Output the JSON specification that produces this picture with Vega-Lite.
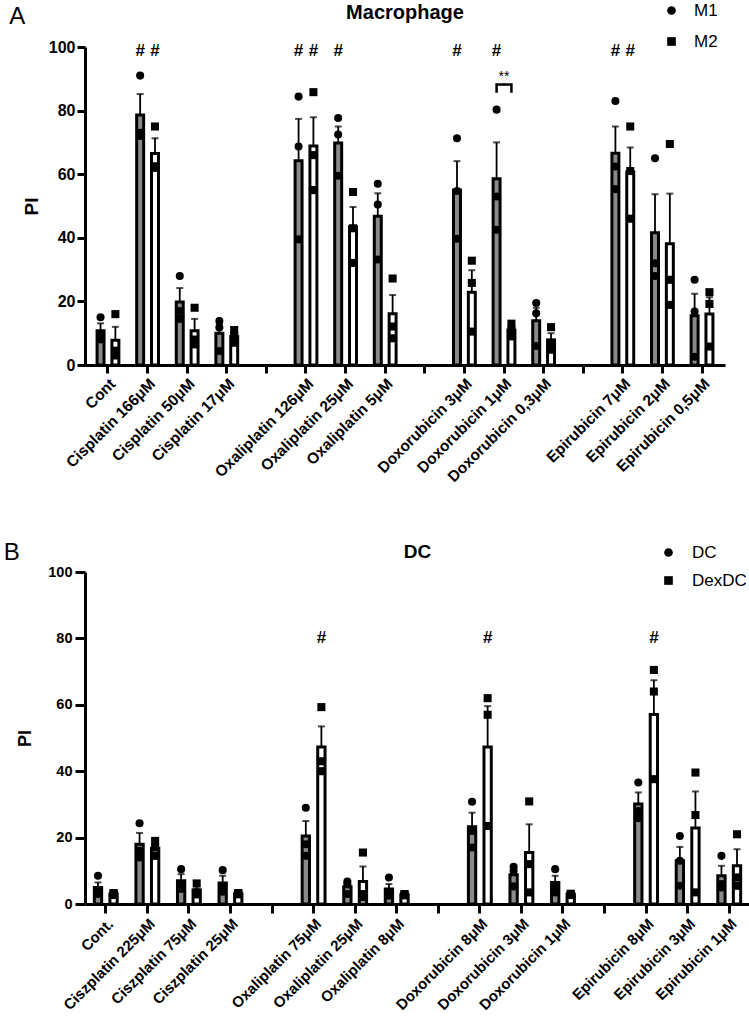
{
  "$schema": "https://vega.github.io/schema/vega-lite/v6.json",
  "padding": {"left": 3, "top": 2, "right": 3, "bottom": 2},
  "spacing": 55,
  "config": {
    "font": "Liberation Sans",
    "view": {"stroke": null},
    "axis": {"grid": false, "domainColor": "black", "tickColor": "black", "labelColor": "black", "titleColor": "black", "domainWidth": 3, "tickWidth": 3, "labelFontWeight": "bold", "titleFontWeight": "bold"},
    "legend": {"labelColor": "black"},
    "title": {"color": "black"}
  },
  "datasets": {
    "macBars": [
      {"cat": "Cont", "group": "M1", "mean": 10.8, "upper": 13.1},
      {"cat": "Cont", "group": "M2", "mean": 7.8, "upper": 12.0},
      {"cat": "Cisplatin 166μM", "group": "M1", "mean": 78.6, "upper": 85.2},
      {"cat": "Cisplatin 166μM", "group": "M2", "mean": 66.5, "upper": 71.3},
      {"cat": "Cisplatin 50μM", "group": "M1", "mean": 19.8, "upper": 24.2},
      {"cat": "Cisplatin 50μM", "group": "M2", "mean": 10.8, "upper": 14.5},
      {"cat": "Cisplatin 17μM", "group": "M1", "mean": 10.0, "upper": 12.9},
      {"cat": "Cisplatin 17μM", "group": "M2", "mean": 9.0, "upper": 10.2},
      {"cat": "Oxaliplatin 126μM", "group": "M1", "mean": 64.2, "upper": 77.4},
      {"cat": "Oxaliplatin 126μM", "group": "M2", "mean": 68.9, "upper": 77.9},
      {"cat": "Oxaliplatin 25μM", "group": "M1", "mean": 69.8, "upper": 75.0},
      {"cat": "Oxaliplatin 25μM", "group": "M2", "mean": 43.5, "upper": 49.7},
      {"cat": "Oxaliplatin 5μM", "group": "M1", "mean": 46.8, "upper": 54.0},
      {"cat": "Oxaliplatin 5μM", "group": "M2", "mean": 16.1, "upper": 22.0},
      {"cat": "Doxorubicin 3μM", "group": "M1", "mean": 55.0, "upper": 64.1},
      {"cat": "Doxorubicin 3μM", "group": "M2", "mean": 22.9, "upper": 29.8},
      {"cat": "Doxorubicin 1μM", "group": "M1", "mean": 58.6, "upper": 70.0},
      {"cat": "Doxorubicin 1μM", "group": "M2", "mean": 11.0, "upper": 12.2},
      {"cat": "Doxorubicin 0,3μM", "group": "M1", "mean": 13.9, "upper": 18.0},
      {"cat": "Doxorubicin 0,3μM", "group": "M2", "mean": 7.9, "upper": 10.0},
      {"cat": "Epirubicin 7μM", "group": "M1", "mean": 66.6, "upper": 75.0},
      {"cat": "Epirubicin 7μM", "group": "M2", "mean": 60.7, "upper": 68.4},
      {"cat": "Epirubicin 2μM", "group": "M1", "mean": 41.6, "upper": 53.7},
      {"cat": "Epirubicin 2μM", "group": "M2", "mean": 38.1, "upper": 53.9},
      {"cat": "Epirubicin 0,5μM", "group": "M1", "mean": 15.5, "upper": 22.4},
      {"cat": "Epirubicin 0,5μM", "group": "M2", "mean": 16.0, "upper": 21.3}
    ],
    "macPoints": [
      {"cat": "Cont", "group": "M1", "value": 15}, {"cat": "Cont", "group": "M1", "value": 9.5}, {"cat": "Cont", "group": "M1", "value": 8},
      {"cat": "Cont", "group": "M2", "value": 16}, {"cat": "Cont", "group": "M2", "value": 4.5}, {"cat": "Cont", "group": "M2", "value": 3},
      {"cat": "Cisplatin 166μM", "group": "M1", "value": 91}, {"cat": "Cisplatin 166μM", "group": "M1", "value": 72}, {"cat": "Cisplatin 166μM", "group": "M1", "value": 73},
      {"cat": "Cisplatin 166μM", "group": "M2", "value": 75}, {"cat": "Cisplatin 166μM", "group": "M2", "value": 62}, {"cat": "Cisplatin 166μM", "group": "M2", "value": 62.5},
      {"cat": "Cisplatin 50μM", "group": "M1", "value": 28}, {"cat": "Cisplatin 50μM", "group": "M1", "value": 17}, {"cat": "Cisplatin 50μM", "group": "M1", "value": 14.5},
      {"cat": "Cisplatin 50μM", "group": "M2", "value": 18}, {"cat": "Cisplatin 50μM", "group": "M2", "value": 8}, {"cat": "Cisplatin 50μM", "group": "M2", "value": 6.5},
      {"cat": "Cisplatin 17μM", "group": "M1", "value": 13.8}, {"cat": "Cisplatin 17μM", "group": "M1", "value": 11.8}, {"cat": "Cisplatin 17μM", "group": "M1", "value": 4.4},
      {"cat": "Cisplatin 17μM", "group": "M2", "value": 11}, {"cat": "Cisplatin 17μM", "group": "M2", "value": 9}, {"cat": "Cisplatin 17μM", "group": "M2", "value": 7},
      {"cat": "Oxaliplatin 126μM", "group": "M1", "value": 84.4}, {"cat": "Oxaliplatin 126μM", "group": "M1", "value": 68.7}, {"cat": "Oxaliplatin 126μM", "group": "M1", "value": 39.5},
      {"cat": "Oxaliplatin 126μM", "group": "M2", "value": 85.8}, {"cat": "Oxaliplatin 126μM", "group": "M2", "value": 66}, {"cat": "Oxaliplatin 126μM", "group": "M2", "value": 55},
      {"cat": "Oxaliplatin 25μM", "group": "M1", "value": 77.7}, {"cat": "Oxaliplatin 25μM", "group": "M1", "value": 72.5}, {"cat": "Oxaliplatin 25μM", "group": "M1", "value": 59.5},
      {"cat": "Oxaliplatin 25μM", "group": "M2", "value": 54.4}, {"cat": "Oxaliplatin 25μM", "group": "M2", "value": 43}, {"cat": "Oxaliplatin 25μM", "group": "M2", "value": 32.1},
      {"cat": "Oxaliplatin 5μM", "group": "M1", "value": 57}, {"cat": "Oxaliplatin 5μM", "group": "M1", "value": 50.5}, {"cat": "Oxaliplatin 5μM", "group": "M1", "value": 33.2},
      {"cat": "Oxaliplatin 5μM", "group": "M2", "value": 27.2}, {"cat": "Oxaliplatin 5μM", "group": "M2", "value": 12.1}, {"cat": "Oxaliplatin 5μM", "group": "M2", "value": 8.4},
      {"cat": "Doxorubicin 3μM", "group": "M1", "value": 71.3}, {"cat": "Doxorubicin 3μM", "group": "M1", "value": 54.7}, {"cat": "Doxorubicin 3μM", "group": "M1", "value": 39.7},
      {"cat": "Doxorubicin 3μM", "group": "M2", "value": 32.8}, {"cat": "Doxorubicin 3μM", "group": "M2", "value": 25.8}, {"cat": "Doxorubicin 3μM", "group": "M2", "value": 10.5},
      {"cat": "Doxorubicin 1μM", "group": "M1", "value": 80.3}, {"cat": "Doxorubicin 1μM", "group": "M1", "value": 53}, {"cat": "Doxorubicin 1μM", "group": "M1", "value": 42.5},
      {"cat": "Doxorubicin 1μM", "group": "M2", "value": 13}, {"cat": "Doxorubicin 1μM", "group": "M2", "value": 11}, {"cat": "Doxorubicin 1μM", "group": "M2", "value": 9},
      {"cat": "Doxorubicin 0,3μM", "group": "M1", "value": 19.5}, {"cat": "Doxorubicin 0,3μM", "group": "M1", "value": 16.3}, {"cat": "Doxorubicin 0,3μM", "group": "M1", "value": 6},
      {"cat": "Doxorubicin 0,3μM", "group": "M2", "value": 11.9}, {"cat": "Doxorubicin 0,3μM", "group": "M2", "value": 7}, {"cat": "Doxorubicin 0,3μM", "group": "M2", "value": 4.8},
      {"cat": "Epirubicin 7μM", "group": "M1", "value": 83}, {"cat": "Epirubicin 7μM", "group": "M1", "value": 62.4}, {"cat": "Epirubicin 7μM", "group": "M1", "value": 55.3},
      {"cat": "Epirubicin 7μM", "group": "M2", "value": 75}, {"cat": "Epirubicin 7μM", "group": "M2", "value": 61}, {"cat": "Epirubicin 7μM", "group": "M2", "value": 46},
      {"cat": "Epirubicin 2μM", "group": "M1", "value": 65}, {"cat": "Epirubicin 2μM", "group": "M1", "value": 32}, {"cat": "Epirubicin 2μM", "group": "M1", "value": 28},
      {"cat": "Epirubicin 2μM", "group": "M2", "value": 69.5}, {"cat": "Epirubicin 2μM", "group": "M2", "value": 26.8}, {"cat": "Epirubicin 2μM", "group": "M2", "value": 18.9},
      {"cat": "Epirubicin 0,5μM", "group": "M1", "value": 26.8}, {"cat": "Epirubicin 0,5μM", "group": "M1", "value": 16.8}, {"cat": "Epirubicin 0,5μM", "group": "M1", "value": 2.6},
      {"cat": "Epirubicin 0,5μM", "group": "M2", "value": 22.9}, {"cat": "Epirubicin 0,5μM", "group": "M2", "value": 19.2}, {"cat": "Epirubicin 0,5μM", "group": "M2", "value": 5.8}
    ],
    "macMarks": [
      {"cat": "Cisplatin 166μM", "group": "M1", "v": 98.6, "label": "#"},
      {"cat": "Cisplatin 166μM", "group": "M2", "v": 98.6, "label": "#"},
      {"cat": "Oxaliplatin 126μM", "group": "M1", "v": 98.6, "label": "#"},
      {"cat": "Oxaliplatin 126μM", "group": "M2", "v": 98.6, "label": "#"},
      {"cat": "Oxaliplatin 25μM", "group": "M1", "v": 98.6, "label": "#"},
      {"cat": "Doxorubicin 3μM", "group": "M1", "v": 98.6, "label": "#"},
      {"cat": "Doxorubicin 1μM", "group": "M1", "v": 98.6, "label": "#"},
      {"cat": "Epirubicin 7μM", "group": "M1", "v": 98.6, "label": "#"},
      {"cat": "Epirubicin 7μM", "group": "M2", "v": 98.6, "label": "#"}
    ],
    "macBracket": [
      {"cat": "Doxorubicin 1μM", "group": "M1", "v": 85.6, "ord": 1},
      {"cat": "Doxorubicin 1μM", "group": "M1", "v": 88.2, "ord": 2},
      {"cat": "Doxorubicin 1μM", "group": "M2", "v": 88.2, "ord": 3},
      {"cat": "Doxorubicin 1μM", "group": "M2", "v": 85.6, "ord": 4}
    ],
    "macStars": [
      {"cat": "Doxorubicin 1μM", "v": 90.6, "label": "**"}
    ],
    "dcBars": [
      {"cat": "Cont.", "group": "DC", "mean": 5.0, "upper": 6.5},
      {"cat": "Cont.", "group": "DexDC", "mean": 3.0, "upper": 3.5},
      {"cat": "Ciszplatin 225μM", "group": "DC", "mean": 18.0, "upper": 21.4},
      {"cat": "Ciszplatin 225μM", "group": "DexDC", "mean": 16.8, "upper": 18.3},
      {"cat": "Ciszplatin 75μM", "group": "DC", "mean": 7.0, "upper": 9.0},
      {"cat": "Ciszplatin 75μM", "group": "DexDC", "mean": 4.2, "upper": 5.3},
      {"cat": "Ciszplatin 25μM", "group": "DC", "mean": 6.3, "upper": 8.5},
      {"cat": "Ciszplatin 25μM", "group": "DexDC", "mean": 3.1, "upper": 3.3},
      {"cat": "Oxaliplatin 75μM", "group": "DC", "mean": 20.5, "upper": 25.0},
      {"cat": "Oxaliplatin 75μM", "group": "DexDC", "mean": 47.3, "upper": 53.5},
      {"cat": "Oxaliplatin 25μM", "group": "DC", "mean": 5.2, "upper": 6.4},
      {"cat": "Oxaliplatin 25μM", "group": "DexDC", "mean": 6.8, "upper": 11.3},
      {"cat": "Oxaliplatin 8μM", "group": "DC", "mean": 4.5, "upper": 6.0},
      {"cat": "Oxaliplatin 8μM", "group": "DexDC", "mean": 2.8, "upper": 3.0},
      {"cat": "Doxorubicin 8μM", "group": "DC", "mean": 23.3, "upper": 27.5},
      {"cat": "Doxorubicin 8μM", "group": "DexDC", "mean": 47.3, "upper": 59.6},
      {"cat": "Doxorubicin 3μM", "group": "DC", "mean": 8.8, "upper": 10.7},
      {"cat": "Doxorubicin 3μM", "group": "DexDC", "mean": 15.5, "upper": 24.0},
      {"cat": "Doxorubicin 1μM", "group": "DC", "mean": 6.5, "upper": 8.5},
      {"cat": "Doxorubicin 1μM", "group": "DexDC", "mean": 2.9, "upper": 3.1},
      {"cat": "Epirubicin 8μM", "group": "DC", "mean": 30.1, "upper": 33.6},
      {"cat": "Epirubicin 8μM", "group": "DexDC", "mean": 57.1, "upper": 67.4},
      {"cat": "Epirubicin 3μM", "group": "DC", "mean": 13.0, "upper": 17.2},
      {"cat": "Epirubicin 3μM", "group": "DexDC", "mean": 22.9, "upper": 33.9},
      {"cat": "Epirubicin 1μM", "group": "DC", "mean": 8.5, "upper": 11.5},
      {"cat": "Epirubicin 1μM", "group": "DexDC", "mean": 11.5, "upper": 16.5}
    ],
    "dcPoints": [
      {"cat": "Cont.", "group": "DC", "value": 8.5}, {"cat": "Cont.", "group": "DC", "value": 3.5}, {"cat": "Cont.", "group": "DC", "value": 3},
      {"cat": "Cont.", "group": "DexDC", "value": 3.3}, {"cat": "Cont.", "group": "DexDC", "value": 3}, {"cat": "Cont.", "group": "DexDC", "value": 2.7},
      {"cat": "Ciszplatin 225μM", "group": "DC", "value": 24.3}, {"cat": "Ciszplatin 225μM", "group": "DC", "value": 16}, {"cat": "Ciszplatin 225μM", "group": "DC", "value": 14},
      {"cat": "Ciszplatin 225μM", "group": "DexDC", "value": 19}, {"cat": "Ciszplatin 225μM", "group": "DexDC", "value": 17}, {"cat": "Ciszplatin 225μM", "group": "DexDC", "value": 14.5},
      {"cat": "Ciszplatin 75μM", "group": "DC", "value": 10.5}, {"cat": "Ciszplatin 75μM", "group": "DC", "value": 6}, {"cat": "Ciszplatin 75μM", "group": "DC", "value": 4.5},
      {"cat": "Ciszplatin 75μM", "group": "DexDC", "value": 6.2}, {"cat": "Ciszplatin 75μM", "group": "DexDC", "value": 3.5}, {"cat": "Ciszplatin 75μM", "group": "DexDC", "value": 2.9},
      {"cat": "Ciszplatin 25μM", "group": "DC", "value": 10.2}, {"cat": "Ciszplatin 25μM", "group": "DC", "value": 5}, {"cat": "Ciszplatin 25μM", "group": "DC", "value": 3.7},
      {"cat": "Ciszplatin 25μM", "group": "DexDC", "value": 3.3}, {"cat": "Ciszplatin 25μM", "group": "DexDC", "value": 3.1}, {"cat": "Ciszplatin 25μM", "group": "DexDC", "value": 2.9},
      {"cat": "Oxaliplatin 75μM", "group": "DC", "value": 29}, {"cat": "Oxaliplatin 75μM", "group": "DC", "value": 18}, {"cat": "Oxaliplatin 75μM", "group": "DC", "value": 14.5},
      {"cat": "Oxaliplatin 75μM", "group": "DexDC", "value": 59.3}, {"cat": "Oxaliplatin 75μM", "group": "DexDC", "value": 43}, {"cat": "Oxaliplatin 75μM", "group": "DexDC", "value": 40},
      {"cat": "Oxaliplatin 25μM", "group": "DC", "value": 6.8}, {"cat": "Oxaliplatin 25μM", "group": "DC", "value": 6}, {"cat": "Oxaliplatin 25μM", "group": "DC", "value": 3},
      {"cat": "Oxaliplatin 25μM", "group": "DexDC", "value": 15.5}, {"cat": "Oxaliplatin 25μM", "group": "DexDC", "value": 3}, {"cat": "Oxaliplatin 25μM", "group": "DexDC", "value": 2},
      {"cat": "Oxaliplatin 8μM", "group": "DC", "value": 8}, {"cat": "Oxaliplatin 8μM", "group": "DC", "value": 3}, {"cat": "Oxaliplatin 8μM", "group": "DC", "value": 2.5},
      {"cat": "Oxaliplatin 8μM", "group": "DexDC", "value": 3}, {"cat": "Oxaliplatin 8μM", "group": "DexDC", "value": 2.8}, {"cat": "Oxaliplatin 8μM", "group": "DexDC", "value": 2.6},
      {"cat": "Doxorubicin 8μM", "group": "DC", "value": 30.8}, {"cat": "Doxorubicin 8μM", "group": "DC", "value": 22}, {"cat": "Doxorubicin 8μM", "group": "DC", "value": 17},
      {"cat": "Doxorubicin 8μM", "group": "DexDC", "value": 62}, {"cat": "Doxorubicin 8μM", "group": "DexDC", "value": 57}, {"cat": "Doxorubicin 8μM", "group": "DexDC", "value": 23.5},
      {"cat": "Doxorubicin 3μM", "group": "DC", "value": 11.2}, {"cat": "Doxorubicin 3μM", "group": "DC", "value": 10}, {"cat": "Doxorubicin 3μM", "group": "DC", "value": 5.3},
      {"cat": "Doxorubicin 3μM", "group": "DexDC", "value": 30.9}, {"cat": "Doxorubicin 3μM", "group": "DexDC", "value": 12}, {"cat": "Doxorubicin 3μM", "group": "DexDC", "value": 3.5},
      {"cat": "Doxorubicin 1μM", "group": "DC", "value": 10.5}, {"cat": "Doxorubicin 1μM", "group": "DC", "value": 5.5}, {"cat": "Doxorubicin 1μM", "group": "DC", "value": 3.5},
      {"cat": "Doxorubicin 1μM", "group": "DexDC", "value": 3.1}, {"cat": "Doxorubicin 1μM", "group": "DexDC", "value": 2.9}, {"cat": "Doxorubicin 1μM", "group": "DexDC", "value": 2.7},
      {"cat": "Epirubicin 8μM", "group": "DC", "value": 36.6}, {"cat": "Epirubicin 8μM", "group": "DC", "value": 28}, {"cat": "Epirubicin 8μM", "group": "DC", "value": 25.8},
      {"cat": "Epirubicin 8μM", "group": "DexDC", "value": 70.5}, {"cat": "Epirubicin 8μM", "group": "DexDC", "value": 64}, {"cat": "Epirubicin 8μM", "group": "DexDC", "value": 37.6},
      {"cat": "Epirubicin 3μM", "group": "DC", "value": 20.5}, {"cat": "Epirubicin 3μM", "group": "DC", "value": 13}, {"cat": "Epirubicin 3μM", "group": "DC", "value": 5.5},
      {"cat": "Epirubicin 3μM", "group": "DexDC", "value": 39.6}, {"cat": "Epirubicin 3μM", "group": "DexDC", "value": 26.8}, {"cat": "Epirubicin 3μM", "group": "DexDC", "value": 3.5},
      {"cat": "Epirubicin 1μM", "group": "DC", "value": 14.5}, {"cat": "Epirubicin 1μM", "group": "DC", "value": 6}, {"cat": "Epirubicin 1μM", "group": "DC", "value": 5},
      {"cat": "Epirubicin 1μM", "group": "DexDC", "value": 21}, {"cat": "Epirubicin 1μM", "group": "DexDC", "value": 8}, {"cat": "Epirubicin 1μM", "group": "DexDC", "value": 5.5}
    ],
    "dcMarks": [
      {"cat": "Oxaliplatin 75μM", "group": "DexDC", "v": 80, "label": "#"},
      {"cat": "Doxorubicin 8μM", "group": "DexDC", "v": 80, "label": "#"},
      {"cat": "Epirubicin 8μM", "group": "DexDC", "v": 80, "label": "#"}
    ]
  },
  "resolve": {"scale": {"x": "independent", "y": "independent", "xOffset": "independent", "shape": "independent"}, "legend": {"shape": "independent"}},
  "vconcat": [
    {
      "title": {"text": "A", "anchor": "start", "frame": "bounds", "fontSize": 24, "fontWeight": "normal", "dy": 31, "dx": -13},
      "resolve": {"scale": {"shape": "independent", "xOffset": "independent"}, "legend": {"shape": "independent"}},
      "vconcat": [
        {
          "width": 640,
          "height": 318,
          "title": {"text": "Macrophage", "fontSize": 20, "fontWeight": "bold", "anchor": "middle", "offset": -21},
          "encoding": {
            "x": {"field": "cat", "type": "nominal", "title": null,
              "scale": {"domain": ["Cont", "Cisplatin 166μM", "Cisplatin 50μM", "Cisplatin 17μM", "gap1", "Oxaliplatin 126μM", "Oxaliplatin 25μM", "Oxaliplatin 5μM", "gap2", "Doxorubicin 3μM", "Doxorubicin 1μM", "Doxorubicin 0,3μM", "gap3", "Epirubicin 7μM", "Epirubicin 2μM", "Epirubicin 0,5μM"], "paddingInner": 0, "paddingOuter": 0.08},
              "axis": {"labelAngle": -45, "labelFontSize": 15.5, "labelPadding": 3, "tickSize": 8, "labelLimit": 300, "labelExpr": "slice(datum.value, 0, 3) === 'gap' ? '' : datum.label"}},
            "xOffset": {"field": "group", "type": "nominal", "scale": {"domain": ["M1", "M2"], "paddingInner": 0.53, "paddingOuter": 0.6}}
          },
          "layer": [
            {
              "data": {"name": "macBars"},
              "mark": {"type": "bar", "stroke": "black", "strokeWidth": 3},
              "encoding": {
                "y": {"field": "mean", "type": "quantitative", "title": "PI",
                  "scale": {"domain": [0, 100]},
                  "axis": {"values": [0, 20, 40, 60, 80, 100], "labelFontSize": 16, "tickSize": 8, "labelPadding": 2, "titleFontSize": 19, "titlePadding": 7}},
                "fill": {"condition": {"test": "datum.group === 'M1'", "value": "#8a8a8a"}, "value": "#ffffff"}
              }
            },
            {
              "data": {"name": "macBars"},
              "mark": {"type": "rule", "color": "black", "strokeWidth": 1.8},
              "encoding": {"y": {"field": "mean", "type": "quantitative"}, "y2": {"field": "upper"}}
            },
            {
              "data": {"name": "macBars"},
              "mark": {"type": "tick", "color": "black", "orient": "horizontal", "size": 7, "thickness": 2},
              "encoding": {"y": {"field": "upper", "type": "quantitative"}}
            },
            {
              "data": {"name": "macPoints"},
              "mark": {"type": "point", "filled": true, "color": "black", "opacity": 1, "size": 65},
              "encoding": {
                "y": {"field": "value", "type": "quantitative"},
                "shape": {"field": "group", "type": "nominal", "scale": {"domain": ["M1", "M2"], "range": ["circle", "square"]},
                  "legend": {"title": null, "orient": "none", "legendX": 578, "legendY": -45, "labelFontSize": 17, "labelFontWeight": "normal", "symbolSize": 75, "symbolFillColor": "black", "symbolStrokeColor": "black", "rowPadding": 13, "labelOffset": 14}}
              }
            },
            {
              "data": {"name": "macMarks"},
              "mark": {"type": "text", "fontSize": 17, "fontWeight": "bold", "baseline": "middle", "color": "black"},
              "encoding": {"y": {"field": "v", "type": "quantitative"}, "text": {"field": "label"}}
            },
            {
              "data": {"name": "macBracket"},
              "mark": {"type": "line", "color": "black", "strokeWidth": 2.5},
              "encoding": {"y": {"field": "v", "type": "quantitative"}, "order": {"field": "ord"}}
            },
            {
              "data": {"name": "macStars"},
              "mark": {"type": "text", "fontSize": 14, "baseline": "middle", "color": "black"},
              "encoding": {"y": {"field": "v", "type": "quantitative"}, "xOffset": null, "text": {"field": "label"}}
            }
          ]
        }
      ]
    },
    {
      "title": {"text": "B", "anchor": "start", "frame": "bounds", "fontSize": 24, "fontWeight": "normal", "dy": 26, "dx": -13},
      "resolve": {"scale": {"shape": "independent", "xOffset": "independent"}, "legend": {"shape": "independent"}},
      "vconcat": [
        {
          "width": 665,
          "height": 332,
          "title": {"text": "DC", "fontSize": 19, "fontWeight": "bold", "anchor": "middle", "offset": -18},
          "encoding": {
            "x": {"field": "cat", "type": "nominal", "title": null,
              "scale": {"domain": ["Cont.", "Ciszplatin 225μM", "Ciszplatin 75μM", "Ciszplatin 25μM", "gap1", "Oxaliplatin 75μM", "Oxaliplatin 25μM", "Oxaliplatin 8μM", "gap2", "Doxorubicin 8μM", "Doxorubicin 3μM", "Doxorubicin 1μM", "gap3", "Epirubicin 8μM", "Epirubicin 3μM", "Epirubicin 1μM"], "paddingInner": 0, "paddingOuter": 0},
              "axis": {"labelAngle": -45, "labelFontSize": 15, "labelPadding": 3, "tickSize": 9, "labelLimit": 300, "labelExpr": "slice(datum.value, 0, 3) === 'gap' ? '' : datum.label"}},
            "xOffset": {"field": "group", "type": "nominal", "scale": {"domain": ["DC", "DexDC"], "paddingInner": 0.53, "paddingOuter": 0.6}}
          },
          "layer": [
            {
              "data": {"name": "dcBars"},
              "mark": {"type": "bar", "stroke": "black", "strokeWidth": 3},
              "encoding": {
                "y": {"field": "mean", "type": "quantitative", "title": "PI",
                  "scale": {"domain": [0, 100]},
                  "axis": {"values": [0, 20, 40, 60, 80, 100], "labelFontSize": 14.5, "tickSize": 10, "labelPadding": 3, "titleFontSize": 18, "titlePadding": 13}},
                "fill": {"condition": {"test": "datum.group === 'DC'", "value": "#8a8a8a"}, "value": "#ffffff"}
              }
            },
            {
              "data": {"name": "dcBars"},
              "mark": {"type": "rule", "color": "black", "strokeWidth": 1.8},
              "encoding": {"y": {"field": "mean", "type": "quantitative"}, "y2": {"field": "upper"}}
            },
            {
              "data": {"name": "dcBars"},
              "mark": {"type": "tick", "color": "black", "orient": "horizontal", "size": 7, "thickness": 2},
              "encoding": {"y": {"field": "upper", "type": "quantitative"}}
            },
            {
              "data": {"name": "dcPoints"},
              "mark": {"type": "point", "filled": true, "color": "black", "opacity": 1, "size": 65},
              "encoding": {
                "y": {"field": "value", "type": "quantitative"},
                "shape": {"field": "group", "type": "nominal", "scale": {"domain": ["DC", "DexDC"], "range": ["circle", "square"]},
                  "legend": {"title": null, "orient": "none", "legendX": 575, "legendY": -28, "labelFontSize": 17, "labelFontWeight": "normal", "symbolSize": 75, "symbolFillColor": "black", "symbolStrokeColor": "black", "rowPadding": 10, "labelOffset": 15}}
              }
            },
            {
              "data": {"name": "dcMarks"},
              "mark": {"type": "text", "fontSize": 17, "fontWeight": "bold", "baseline": "middle", "color": "black"},
              "encoding": {"y": {"field": "v", "type": "quantitative"}, "text": {"field": "label"}}
            }
          ]
        }
      ]
    }
  ]
}
